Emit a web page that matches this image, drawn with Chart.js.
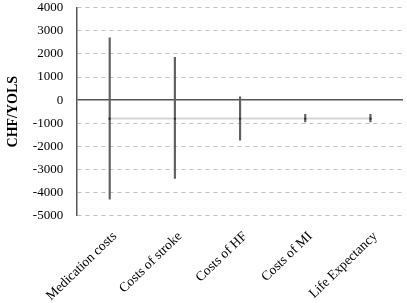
<!DOCTYPE html>
<html>
<head>
<meta charset="utf-8">
<script src="https://cdn.jsdelivr.net/npm/chart.js"></script>
<style>
    body { margin: 0; background: #fff; }
    #wrap { width: 407px; height: 303px; }
</style>
</head>
<body>
<div id="wrap"><canvas id="chart"></canvas></div>
<script>
// Sensitivity ranges
const categories = ['Medication costs', 'Costs of stroke', 'Costs of HF', 'Costs of MI', 'Life Expectancy'];
const lowValues = [-4290, -3390, -1740, -940, -940];
const highValues = [2700, 1850, 140, -610, -620];
const baseValues = [-800, -800, -800, -800, -800];
const yTicks = [-5000, -4000, -3000, -2000, -1000, 0, 1000, 2000, 3000, 4000];

const serif = "'Liberation Serif', 'Times New Roman', serif";

new Chart(document.getElementById('chart'), {
    data: {
        labels: categories,
        datasets: [
            {
                type: 'line',
                data: baseValues,
                borderColor: '#d6d6d6',
                borderWidth: 2,
                pointStyle: 'rect',
                pointRadius: 1.5,
                pointBackgroundColor: '#222',
                pointBorderWidth: 0,
                order: 0
            },
            {
                type: 'bar',
                data: lowValues.map((v, i) => [v, highValues[i]]),
                backgroundColor: '#606060',
                barThickness: 1.5,
                borderSkipped: false,
                order: 1
            }
        ]
    },
    options: {
        responsive: true,
        maintainAspectRatio: false,
        animation: false,
        layout: { padding: { top: -2, right: 3, left: 5, bottom: -14 } },
        plugins: { legend: { display: false }, tooltip: { enabled: false } },
        scales: {
            x: {
                grid: { display: false, drawTicks: false },
                border: { display: false },
                ticks: {
                    minRotation: 44,
                    maxRotation: 44,
                    padding: 13,
                    labelOffset: 5,
                    color: '#000',
                    font: { family: serif, size: 13.5 }
                }
            },
            y: {
                min: -5000,
                max: 4000,
                afterBuildTicks: axis => { axis.ticks = yTicks.map(v => ({ value: v })); },
                grid: {
                    tickLength: 14,
                    tickColor: 'rgba(0,0,0,0)',
                    color: ctx => ctx.tick && ctx.tick.value === 0 ? '#555' : '#c0c0c0',
                    lineWidth: ctx => ctx.tick && ctx.tick.value === 0 ? 1.5 : 1
                },
                border: {
                    color: '#555',
                    width: 1.5,
                    dash: ctx => ctx.tick && ctx.tick.value === 0 ? [] : [4, 4]
                },
                ticks: {
                    padding: 0,
                    color: '#000',
                    font: { family: serif, size: 13 },
                    callback: v => String(v)
                },
                title: {
                    display: true,
                    text: 'CHF/YOLS',
                    color: '#000',
                    padding: { top: 0, bottom: 11 },
                    font: { family: serif, size: 14, weight: 'bold' }
                }
            }
        }
    }
});
</script>
</body>
</html>
